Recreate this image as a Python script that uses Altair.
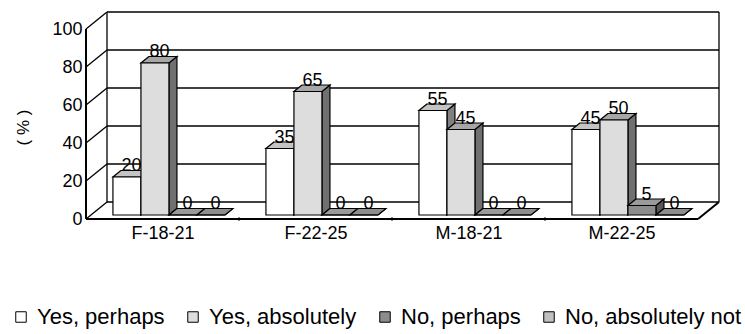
import altair as alt
import pandas as pd

# ---- chart data -------------------------------------------------------------
categories = ["F-18-21", "F-22-25", "M-18-21", "M-22-25"]
series = ["Yes, perhaps", "Yes, absolutely", "No, perhaps", "No, absolutely not"]
yes_perhaps = [20, 35, 55, 45]
yes_absolutely = [80, 65, 45, 50]
no_perhaps = [0, 0, 0, 5]
no_absolutely_not = [0, 0, 0, 0]
y_ticks = [0, 20, 40, 60, 80, 100]

values_by_series = [yes_perhaps, yes_absolutely, no_perhaps, no_absolutely_not]

# ---- styling ------------------------------------------------------------------
front_colors = ["#ffffff", "#dddddd", "#8c8c8c", "#c0c0c0"]
top_colors = ["#c4c4c4", "#a6a6a6", "#9a9a9a", "#8e8e8e"]
side_colors = ["#808080", "#707070", "#585858", "#606060"]
FONT = "Liberation Sans, Arial, sans-serif"

# ---- layout (pixels) ------------------------------------------------------------
LEFT, TOP = 86, 12
PLOT_W, PLOT_H = 636, 207
GROUP_PX = 153.0          # width of one category on the front plane
UNIT_PX = 1.9             # pixels per percentage point
DEPTH_PX = (21.0, 17.0)   # oblique offset of the back wall
BAR_PX = 28.0
GROUP_PAD_PX = 22.0
BAR_DEPTH_START = 4.0 / 17.0
BAR_DEPTH_PX = 8.0

# convert the pixel layout to data units of the two scales
dxu = DEPTH_PX[0] / GROUP_PX
dyu = DEPTH_PX[1] / UNIT_PX
bw = BAR_PX / GROUP_PX
pad = GROUP_PAD_PX / GROUP_PX
d0 = BAR_DEPTH_START
dd = BAR_DEPTH_PX / DEPTH_PX[0]
n_groups = len(categories)
y_top = max(y_ticks)

x_scale = alt.Scale(domain=[0, PLOT_W / GROUP_PX], nice=False, zero=False)
y_scale = alt.Scale(domain=[0, PLOT_H / UNIT_PX], nice=False, zero=False)

label_expr = "[" + ",".join(f"'{c}'" for c in categories) + "][floor(datum.value)]"
x_axis = alt.Axis(
    values=[g + 0.5 for g in range(n_groups)], labelExpr=label_expr, title=None,
    domain=False, ticks=False, tickSize=0, grid=False, labelPadding=5,
    labelFontSize=18, labelFont=FONT, labelColor="black",
    labelFlush=False, labelOverlap=False,
)
y_axis = alt.Axis(
    values=y_ticks, title="( % )", domain=False, ticks=False, tickSize=0, grid=False,
    labelPadding=4, labelFontSize=18, labelFont=FONT, labelColor="black",
    labelFlush=False, labelOverlap=False,
    titleFont=FONT, titleFontSize=17, titleFontWeight="normal", titleColor="black",
    titleX=-63, titleY=115, titleAngle=270, titleAlign="center", titleBaseline="middle",
)


def X(f):
    return alt.X(f, type="quantitative", scale=x_scale, axis=x_axis)


def Y(f):
    return alt.Y(f, type="quantitative", scale=y_scale, axis=y_axis)


legend = alt.Legend(
    orient="none", legendX=-76, legendY=294, direction="horizontal", title=None,
    symbolType="square", symbolSize=110, symbolStrokeColor="black", symbolStrokeWidth=1,
    labelFontSize=22, labelFont=FONT, labelColor="black", labelOffset=5,
    columnPadding=17, padding=0, labelLimit=400, symbolOpacity=1, gridAlign="none",
)

GRID_W = 1.3
EDGE_W = 2.0

# ---- 3-D frame: back wall, left wall, floor ------------------------------------
back_grid = pd.DataFrame({"x": dxu, "x2": n_groups + dxu, "y": [v + dyu for v in y_ticks]})
left_wall = pd.DataFrame({"x": 0.0, "x2": dxu, "y": y_ticks, "y2": [v + dyu for v in y_ticks]})
back_edges = pd.DataFrame({"x": [dxu, n_groups + dxu], "y": dyu, "y2": y_top + dyu})
front_axis = pd.DataFrame({"x": [0.0], "y": [0.0], "y2": [float(y_top)]})
floor_front = pd.DataFrame({"x": [0.0], "x2": [float(n_groups)], "y": [0.0]})
floor_side = pd.DataFrame({"x": [float(n_groups)], "x2": [n_groups + dxu], "y": [0.0], "y2": [dyu]})
floor_ticks = pd.DataFrame({"x": [float(g) for g in range(1, n_groups)], "y": 0.0})

layers = [
    alt.Chart(back_grid).mark_rule(color="black", strokeWidth=GRID_W).encode(
        x=X("x"), x2=alt.X2("x2"), y=Y("y")),
    alt.Chart(left_wall).mark_rule(color="black", strokeWidth=GRID_W).encode(
        x=X("x"), x2=alt.X2("x2"), y=Y("y"), y2=alt.Y2("y2")),
    alt.Chart(back_edges).mark_rule(color="black", strokeWidth=GRID_W).encode(
        x=X("x"), y=Y("y"), y2=alt.Y2("y2")),
    alt.Chart(front_axis).mark_rule(color="black", strokeWidth=EDGE_W).encode(
        x=X("x"), y=Y("y"), y2=alt.Y2("y2")),
    alt.Chart(floor_front).mark_rule(color="black", strokeWidth=EDGE_W).encode(
        x=X("x"), x2=alt.X2("x2"), y=Y("y")),
    alt.Chart(floor_side).mark_rule(color="black", strokeWidth=EDGE_W).encode(
        x=X("x"), x2=alt.X2("x2"), y=Y("y"), y2=alt.Y2("y2")),
    alt.Chart(floor_ticks).mark_tick(color="black", orient="vertical", size=4, thickness=1.3).encode(
        x=X("x"), y=Y("y")),
]

# ---- 3-D bars, one series at a time so later series overlap earlier ones ---------
for i, (name, vals) in enumerate(zip(series, values_by_series)):
    front_rows, side_rows, top_rows = [], [], []
    for g, (cat, v) in enumerate(zip(categories, vals)):
        x0 = g + pad + i * bw + d0 * dxu
        x1 = x0 + bw
        base = d0 * dyu
        top = base + v
        bar_id = f"{cat}|{name}"
        front_rows.append({"category": cat, "series": name, "value": v,
                           "x0": x0, "x1": x1, "xc": (x0 + x1) / 2,
                           "base": base, "top": top})
        for t in (0.0, dd):
            side_rows.append({"id": bar_id, "x": x1 + t * dxu,
                              "lo": base + t * dyu, "hi": top + t * dyu})
            top_rows.append({"id": bar_id, "y": top + t * dyu,
                             "xl": x0 + t * dxu, "xr": x1 + t * dxu})
    front_df = pd.DataFrame(front_rows)
    side_df = pd.DataFrame(side_rows)
    top_df = pd.DataFrame(top_rows)

    layers.append(
        alt.Chart(side_df).mark_area(orient="vertical", fill=side_colors[i], stroke="black",
                                     strokeWidth=1.2, strokeJoin="miter").encode(
            x=X("x"), y=Y("hi"), y2=alt.Y2("lo"), detail="id:N"))
    layers.append(
        alt.Chart(top_df).mark_area(orient="horizontal", fill=top_colors[i], stroke="black",
                                    strokeWidth=1.2, strokeJoin="miter").encode(
            y=Y("y"), x=X("xl"), x2=alt.X2("xr"), detail="id:N"))
    layers.append(
        alt.Chart(front_df).mark_rect(stroke="black", strokeWidth=1.2).encode(
            x=X("x0"), x2=alt.X2("x1"), y=Y("base"), y2=alt.Y2("top"),
            fill=alt.Fill("series:N", scale=alt.Scale(domain=series, range=front_colors),
                          legend=legend)))
    layers.append(
        alt.Chart(front_df).mark_text(dx=4.5, dy=-6, fontSize=18, font=FONT, color="black",
                                      align="center", baseline="alphabetic").encode(
            x=X("xc"), y=Y("top"), text=alt.Text("value:Q", format="d")))

chart = (
    alt.layer(*layers)
    .properties(
        width=PLOT_W, height=PLOT_H,
        autosize=alt.AutoSizeParams(type="none"),
        padding={"left": LEFT, "top": TOP, "right": 745 - LEFT - PLOT_W,
                 "bottom": 334 - TOP - PLOT_H},
        background="white",
    )
    .configure_view(stroke=None)
)

chart.save("out.html", embed_options={"renderer": "svg", "actions": False})
